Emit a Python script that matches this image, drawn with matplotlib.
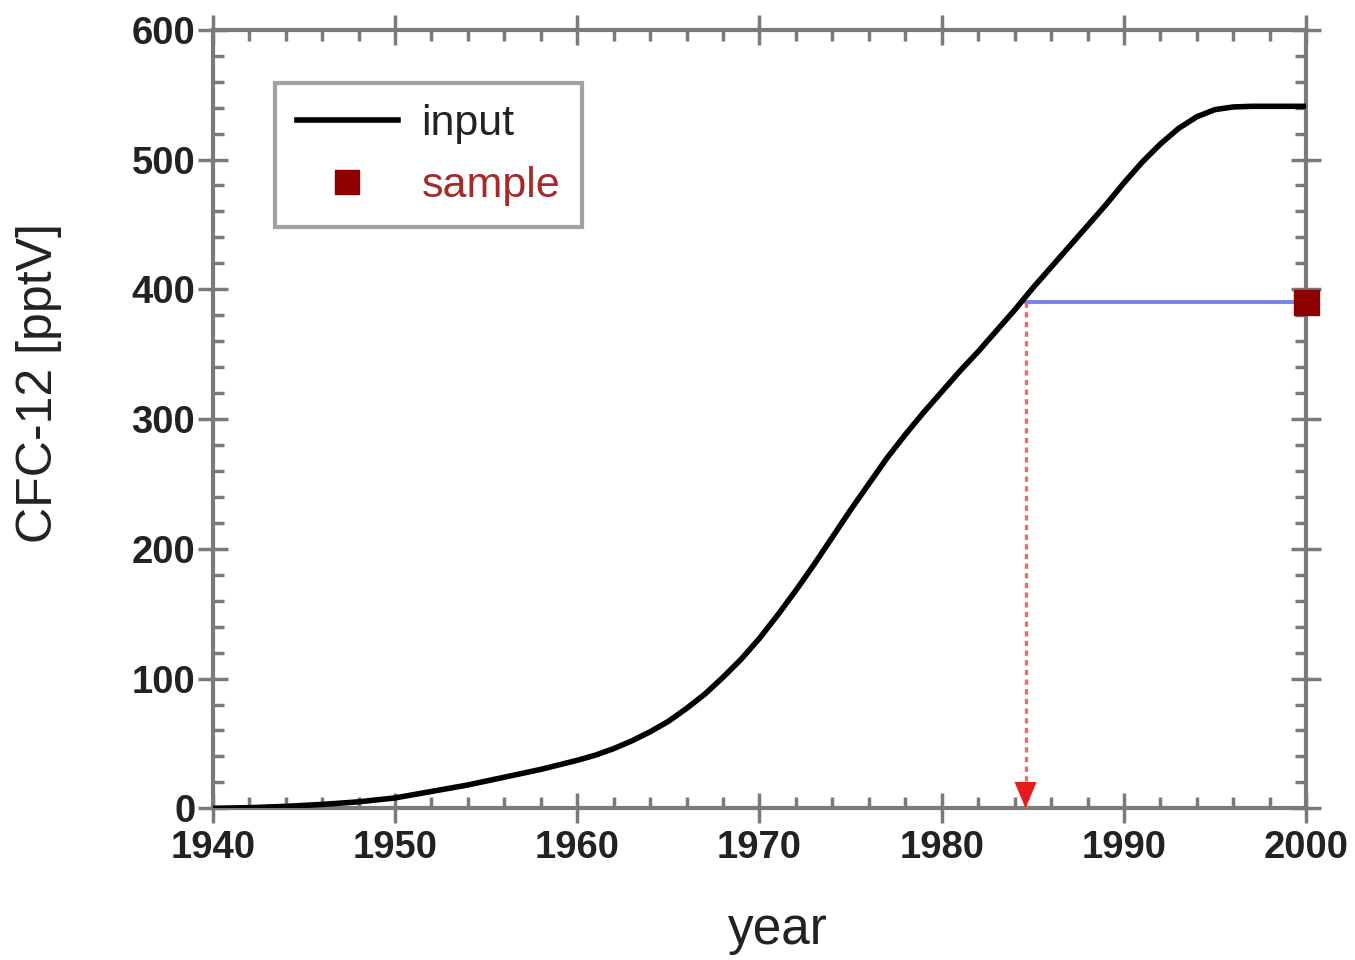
import numpy as np
import matplotlib
matplotlib.use('Agg')
import matplotlib.pyplot as plt
from matplotlib.ticker import MultipleLocator

plt.rcParams['font.family'] = ['Liberation Sans', 'DejaVu Sans']

# CFC-12 input curve
years = [1940, 1942, 1944, 1946, 1948, 1950, 1952, 1954, 1956, 1958,
         1960, 1961, 1962, 1963, 1964, 1965, 1966, 1967, 1968, 1969,
         1970, 1971, 1972, 1973, 1974, 1975, 1976, 1977, 1978, 1979,
         1980, 1981, 1982, 1983, 1984, 1985, 1986, 1987, 1988, 1989,
         1990, 1991, 1992, 1993, 1994, 1995, 1996, 1997, 2000]
cfc12 = [0, 0.5, 1.5, 3, 5, 8, 13, 18, 24, 30,
         37, 41, 46, 52, 59, 67, 77, 88, 101, 115,
         131, 149, 168, 188, 209, 230, 250, 270, 288, 305,
         321, 337, 352, 368, 384, 401, 417, 433, 449, 465,
         482, 498, 512, 524, 533, 538.5, 540.5, 541, 541]

sample_year = 2000
sample_value = 390
apparent_year = 1984.6

xticks = [1940, 1950, 1960, 1970, 1980, 1990, 2000]
yticks = [0, 100, 200, 300, 400, 500, 600]

spine_col = '#7a7a7a'

fig = plt.figure(figsize=(13.55, 9.6), dpi=100)
ax = fig.add_axes([0.157, 0.158, 0.807, 0.811])

ax.plot(years, cfc12, color='black', lw=4, label='input', zorder=4,
        solid_joinstyle='round')

# blue line: sample value back to the input curve
ax.plot([apparent_year, sample_year], [sample_value, sample_value],
        color='#7b80e6', lw=2.8, zorder=3)
# red dashed drop to the axis
ax.plot([apparent_year, apparent_year], [sample_value, 0],
        color='#f06a6a', lw=2.4, ls=(0, (1.6, 1.3)), zorder=3)
ax.annotate('', xy=(apparent_year, 0), xytext=(0, 32), textcoords='offset points',
            arrowprops=dict(arrowstyle='-|>,head_width=0.8,head_length=1.9',
                            color='#e41c1c', lw=0, shrinkA=0, shrinkB=0),
            zorder=5, annotation_clip=False)

ax.plot([sample_year], [sample_value], 's', color='#8e0000', ms=18,
        label='sample', clip_on=False, zorder=6, linestyle='none')

ax.set_xlim(1940, 2000)
ax.set_ylim(0, 600)
ax.set_xticks(xticks)
ax.set_yticks(yticks)
ax.xaxis.set_minor_locator(MultipleLocator(2))
ax.yaxis.set_minor_locator(MultipleLocator(20))

for s in ax.spines.values():
    s.set_color(spine_col)
    s.set_linewidth(3)

ax.tick_params(which='major', direction='inout', length=21, width=2.5,
               color=spine_col, top=True, right=True, labelsize=27.5, pad=2,
               labelcolor='#222222')
ax.tick_params(axis='x', which='major', pad=5)
ax.tick_params(which='minor', direction='in', length=8, width=2.5,
               color=spine_col, top=True, right=True)
for lab in ax.get_xticklabels() + ax.get_yticklabels():
    lab.set_fontweight('bold')

ax.set_xlabel('year', fontsize=37, color='#222222')
ax.set_ylabel('CFC-12 [pptV]', fontsize=36, color='#222222')
ax.xaxis.set_label_coords(0.517, -0.125)
ax.yaxis.set_label_coords(-0.138, 0.546)

leg = ax.legend(loc='upper left', bbox_to_anchor=(0.057, 0.932), fontsize=31,
                frameon=True, fancybox=False, edgecolor='#8a8a8a',
                labelcolor=['#222222', '#a52a2a'], handlelength=2.35,
                handletextpad=0.55, borderpad=0.5, labelspacing=0.5,
                borderaxespad=0, markerscale=0.95)
leg.get_frame().set_linewidth(3)

fig.savefig('out.png', dpi=100)
